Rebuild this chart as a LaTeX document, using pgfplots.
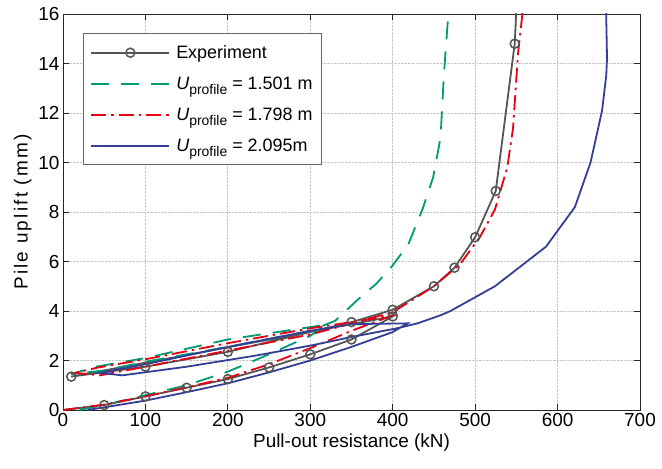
\documentclass[border=0pt]{standalone}
\usepackage{fontspec}
\setmainfont{Liberation Sans}
\usepackage{pgfplots}
\pgfplotsset{compat=1.18}
\usetikzlibrary{calc}
\definecolor{expgray}{RGB}{85,85,85}
\definecolor{mgreen}{RGB}{0,155,115}
\definecolor{mred}{RGB}{230,0,18}
\definecolor{mblue}{RGB}{52,62,150}
\newcommand{\Up}{\textit{U}\raisebox{-5bp}{\fontsize{14}{16}\selectfont profile}}
\begin{document}
\begin{tikzpicture}
\begin{axis}[
  name=ax,
  width=577bp, height=396bp, scale only axis,
  xmin=0, xmax=700, ymin=0, ymax=16,
  xtick distance=100, ytick distance=2,
  /pgf/number format/assume math mode=true,
  tick label style={font=\fontsize{19}{22}\selectfont},
  xlabel style={font=\fontsize{19}{22}\selectfont},
  ylabel style={font=\fontsize{19}{22}\selectfont\addfontfeatures{LetterSpace=12}},
  xlabel={Pull-out resistance (kN)},
  ylabel={Pile uplift (mm)},
  grid=major,
  grid style={densely dotted, gray!45, line width=0.8bp},
  tick align=inside,
  major tick length=6bp,
  axis line style={black!85, line width=0.9bp},
  every tick/.style={black!85, line width=0.8bp},
  legend cell align=left,
  legend style={at={(0.0347,0.952)}, anchor=north west,
    draw=black!60, line width=0.9bp,
    font=\fontsize{18}{21}\selectfont,
    inner xsep=7bp, inner ysep=10bp, row sep=13bp,
    /tikz/every odd column/.append style={column sep=4bp}},
  legend image code/.code={\draw[mark repeat=2,mark phase=2,#1] plot coordinates {(0bp,0bp) (39bp,0bp) (78bp,0bp)};},
  clip=true,
]
% Experiment
\addplot[expgray, line width=1.8bp, mark=o, mark size=4.5bp, mark options={solid, line width=1.5bp}, mark phase=2, mark repeat=1] coordinates {
(0,0) (50,0.2) (100,0.55) (150,0.9) (200,1.25) (250,1.72) (300,2.25) (350,2.85) (400,3.78)
(10,1.35) (100,1.75) (200,2.35) (350,3.55) (400,4.05) (450,5.0) (475,5.75) (500,6.98) (525,8.85) (548,14.8) (552,17.5)
};
\addlegendentry{Experiment}
% U = 1.501
\addplot[mgreen, line width=1.8bp, dash pattern=on 18bp off 12bp] coordinates {
(20,0) (50,0.2) (100,0.6) (150,1.0) (200,1.55) (250,2.25) (300,3.0) (320,3.45)
(290,3.3) (200,2.85) (100,2.1) (40,1.75) (10,1.45)
(50,1.6) (100,1.95) (200,2.55) (300,3.2) (330,3.6) (357,4.44) (380,5.1) (399,5.8) (419,6.7) (436,8.1) (449,9.4) (458,11.0) (462,13.5) (467,15.8) (468,16.5)
};
\addlegendentry{\Up{} = 1.501 m}
% U = 1.798
\addplot[mred, line width=1.8bp, dash pattern=on 15bp off 5bp on 2.5bp off 5bp] coordinates {
(0,0) (50,0.22) (100,0.55) (150,0.92) (200,1.3) (250,1.85) (300,2.5) (350,3.2) (398,3.8)
(300,3.3) (200,2.7) (100,2.05) (40,1.7) (15,1.5)
(45,1.4) (100,1.75) (200,2.4) (300,3.05) (400,3.95) (450,5.0) (482,5.9) (506,7.0) (524,8.1) (539,9.8) (546,11.4) (552,14.4) (557,15.9) (558,16.5)
};
\addlegendentry{\Up{} = 1.798 m}
% U = 2.095
\addplot[mblue, line width=1.8bp] coordinates {
(30,0) (100,0.38) (150,0.72) (200,1.08) (250,1.52) (300,2.0) (350,2.55) (400,3.15) (418,3.5)
(350,3.47) (300,3.2) (200,2.55) (100,1.85) (45,1.5)
(72,1.4) (150,1.75) (234,2.2) (300,2.6) (350,2.95) (405,3.3) (430,3.5) (459,3.84) (470,4.0) (524,5.0) (586,6.6) (621,8.2) (640,10.0) (654,12.1) (659,13.5) (660,14.2) (659,15.9) (659,16.5)
};
\addlegendentry{\Up{} = 2.095m}
\end{axis}
\pgfresetboundingbox
\path[use as bounding box] ($(ax.south west)+(-63bp,-58bp)$) rectangle ($(ax.north east)+(22bp,14bp)$);
\end{tikzpicture}
\end{document}
